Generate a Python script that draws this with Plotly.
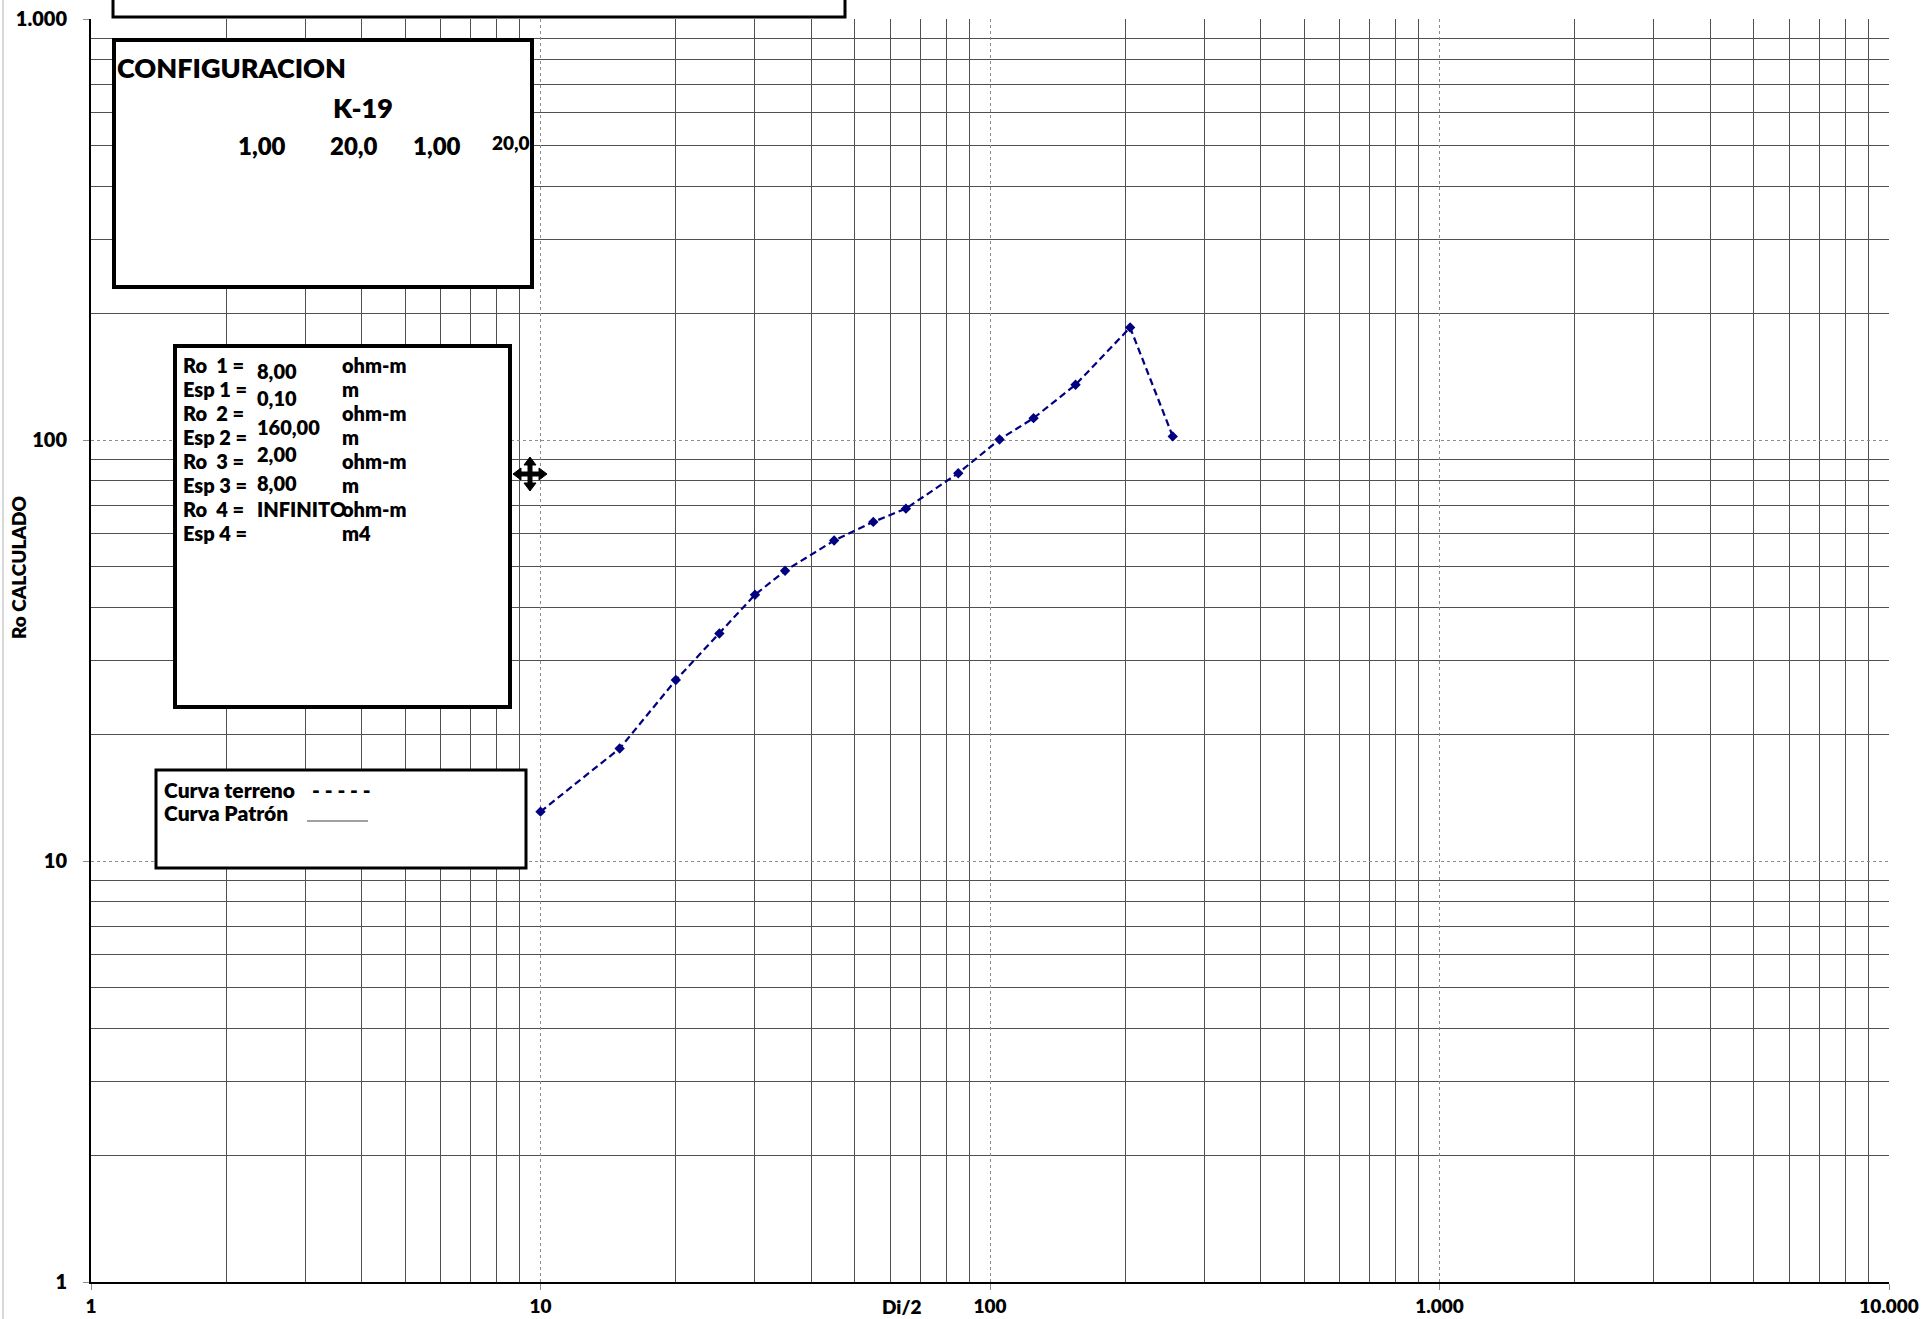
import plotly.graph_objects as go

# ---------------- data ----------------
di2 = [10, 15, 20, 25, 30, 35, 45, 55, 65, 85, 105, 125, 155, 205, 255]
ro_calc = [13.1, 18.5, 26.9, 34.7, 42.9, 48.9, 57.7, 63.9, 68.7, 83.4, 100.3, 112.7, 135.3, 185.0, 102.0]

x_tickvals = [1, 10, 100, 1000, 10000]
x_ticktext = ["1", "10", "100", "1.000", "10.000"]
y_tickvals = [1, 10, 100, 1000]
y_ticktext = ["1", "10", "100", "1.000"]
x_minor = [m * d for d in (1, 10, 100, 1000) for m in range(2, 10)]
y_minor = [m * d for d in (1, 10, 100) for m in range(2, 10)]

config_title = "CONFIGURACION"
config_name = "K-19"
config_values = ["1,00", "20,0", "1,00", "20,0"]
param_labels = ["Ro  1 =", "Esp 1 =", "Ro  2 =", "Esp 2 =", "Ro  3 =", "Esp 3 =", "Ro  4 =", "Esp 4 ="]
param_values = ["8,00", "0,10", "160,00", "2,00", "8,00", "INFINITO"]
param_units = ["ohm-m", "m", "ohm-m", "m", "ohm-m", "m", "ohm-m", "m4"]
legend_labels = ["Curva terreno", "Curva Patrón"]
legend_marks = ["- - - - -", ""]

# ---------------- layout helpers (pixel -> paper) ----------------
W, H = 1921, 1319
PL, PR, PT, PB = 91, 1889, 19, 1282
FONT = "Lato"
WEIGHT = 800


def px(x):
    return (x - PL) / (PR - PL)


def py(y):
    return (PB - y) / (PB - PT)


fig = go.Figure()
fig.add_trace(go.Scatter(
    x=di2, y=ro_calc, mode="lines+markers",
    line=dict(color="#000080", width=2.2, dash="7px,4px"),
    marker=dict(symbol="diamond", size=8, color="#000080"),
    showlegend=False, hoverinfo="x+y",
))

shapes = []
annotations = []


def rect(x0, y0, x1, y1, w):
    shapes.append(dict(type="rect", xref="paper", yref="paper",
                       x0=px(x0), x1=px(x1), y0=py(y0), y1=py(y1),
                       line=dict(color="black", width=w), fillcolor="white", layer="above"))


def text(t, x, y, size, anchor="left", color="black"):
    annotations.append(dict(text=t, xref="paper", yref="paper", x=px(x), y=py(y),
                            xanchor=anchor, yanchor="middle", showarrow=False,
                            font=dict(family=FONT, size=size, color=color, weight=WEIGHT)))


# top (cut) box and configuration box
rect(113, -60, 845, 17, 3)
rect(114, 40, 532, 287, 4)
text(config_title, 115, 67, 27)
text(config_name, 363, 107, 27, anchor="center")
cfg_x = [262, 354, 437]
for v, xx in zip(config_values[:3], cfg_x):
    text(v, xx, 145, 24, anchor="center")
text(config_values[3], 511, 142, 19, anchor="center")

# parameter box
rect(175, 346, 510, 707, 4)
row_y = [365, 389, 413, 437, 461, 485, 509, 533]
val_y = [371, 398, 427, 454, 483, 509]
for lab, yy in zip(param_labels, row_y):
    text(lab, 181, yy, 20)
for v, yy in zip(param_values, val_y):
    text(v, 255, yy, 20)
for u, yy in zip(param_units, row_y):
    text(u, 340, yy, 20)

# legend box
rect(156, 770, 526, 868, 3)
text(legend_labels[0], 162, 789, 21)
text(legend_marks[0], 310, 789, 21)
text(legend_labels[1], 162, 813, 21)
shapes.append(dict(type="line", xref="paper", yref="paper",
                   x0=px(307), x1=px(368), y0=py(821), y1=py(821),
                   line=dict(color="#808080", width=1.5), layer="above"))

# move cursor glyph
cx, cy, L, h, a, s = 530, 474, 17, 6, 8, 2
pts = [(0, -L), (h, -L + a), (s, -L + a), (s, -s), (L - a, -s), (L - a, -h), (L, 0),
       (L - a, h), (L - a, s), (s, s), (s, L - a), (h, L - a), (0, L), (-h, L - a),
       (-s, L - a), (-s, s), (-L + a, s), (-L + a, h), (-L, 0), (-L + a, -h),
       (-L + a, -s), (-s, -s), (-s, -L + a), (-h, -L + a)]
path = "M " + " L ".join(f"{px(cx + u):.5f},{py(cy + v):.5f}" for u, v in pts) + " Z"
shapes.append(dict(type="path", xref="paper", yref="paper", path=path,
                   fillcolor="black", line=dict(color="black", width=1), layer="above"))

# thin chart-area border at far left
shapes.append(dict(type="line", xref="paper", yref="paper",
                   x0=px(3), x1=px(3), y0=py(0), y1=py(H),
                   line=dict(color="#b0b0b0", width=1), layer="below"))

# axis titles
annotations.append(dict(text="Di/2", xref="paper", yref="paper", x=px(902), y=py(1306),
                        xanchor="center", yanchor="middle", showarrow=False,
                        font=dict(family=FONT, size=19, color="black", weight=WEIGHT)))
annotations.append(dict(text="Ro CALCULADO", xref="paper", yref="paper", x=px(18), y=py(568),
                        xanchor="center", yanchor="middle", showarrow=False, textangle=-90,
                        font=dict(family=FONT, size=19, color="black", weight=WEIGHT)))

fig.update_layout(
    width=W, height=H, autosize=False,
    margin=dict(l=PL, r=W - PR, t=PT, b=H - PB, pad=0),
    paper_bgcolor="white", plot_bgcolor="white",
    shapes=shapes, annotations=annotations,
    xaxis=dict(type="log", range=[0, 4], tickmode="array", tickvals=x_tickvals, ticktext=x_ticktext,
               automargin=False,
               showgrid=True, gridcolor="#8c8c8c", gridwidth=1, griddash="dot",
               showline=True, linecolor="black", linewidth=2,
               ticks="outside", ticklen=6, tickcolor="#8c8c8c", ticklabelstandoff=0,
               tickfont=dict(family=FONT, size=19, color="black", weight=WEIGHT),
               minor=dict(tickmode="array", tickvals=x_minor, showgrid=True, griddash="solid",
                          gridcolor="#505050", gridwidth=1, ticks=""),
               zeroline=False, fixedrange=True),
    yaxis=dict(type="log", range=[0, 3], tickmode="array", tickvals=y_tickvals, ticktext=y_ticktext,
               automargin=False,
               showgrid=True, gridcolor="#8c8c8c", gridwidth=1, griddash="dot",
               showline=True, linecolor="black", linewidth=2,
               ticks="outside", ticklen=6, tickcolor="#8c8c8c", ticklabelstandoff=12,
               tickfont=dict(family=FONT, size=20, color="black", weight=WEIGHT),
               minor=dict(tickmode="array", tickvals=y_minor, showgrid=True, griddash="solid",
                          gridcolor="#505050", gridwidth=1, ticks=""),
               zeroline=False, fixedrange=True),
)

fig.write_html("out.html", config={"displayModeBar": False},
               post_script="document.body.style.margin='0';document.body.style.overflow='hidden';")
